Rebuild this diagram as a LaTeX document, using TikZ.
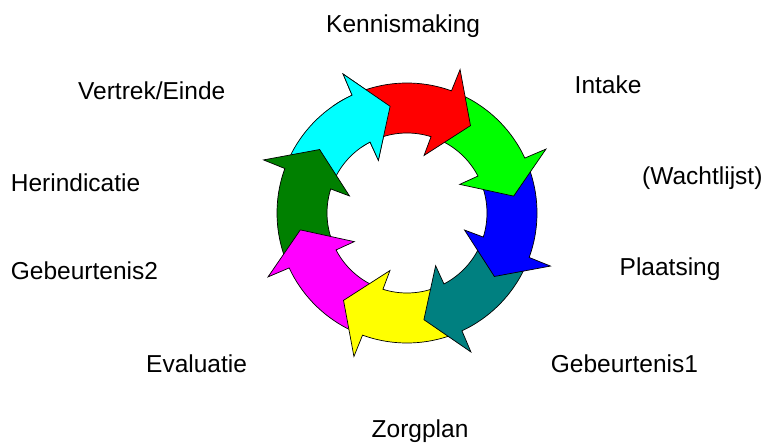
\documentclass[tikz,border=0pt]{standalone}
\usepackage{fontspec}
\setmainfont{Liberation Sans}
\definecolor{cteal}{RGB}{0,128,128}
\definecolor{cdkgreen}{RGB}{0,128,0}
\definecolor{cred}{RGB}{255,0,0}
\definecolor{cgreen}{RGB}{0,255,0}
\definecolor{cblue}{RGB}{0,0,255}
\definecolor{cyellow}{RGB}{255,255,0}
\definecolor{cmagenta}{RGB}{255,0,255}
\definecolor{ccyan}{RGB}{0,255,255}
\newcommand{\cycarrow}[2]{%
  \filldraw[arrowshape, fill=#2]
    ({#1+58.5}:130) arc[start angle={#1+58.5}, end angle={#1+16}, radius=130]
    -- ({#1+15.7}:153) -- ({#1}:108) -- ({#1+19.5}:60) -- ({#1+18.5}:80)
    arc[start angle={#1+18.5}, end angle={#1+58.5}, radius=80] -- cycle;}
\tikzset{
  arrowshape/.style={draw=black, line width=0.7pt, line join=miter},
  lbl/.style={anchor=base west, inner sep=0pt, font=\fontsize{24.5}{28}\selectfont}
}
\begin{document}
\begin{tikzpicture}[x=1pt,y=1pt]
\useasboundingbox (0,0) rectangle (765,442);
\begin{scope}[shift={(407,229)}]
  \cycarrow{99}{ccyan}
  \cycarrow{144}{cdkgreen}
  \cycarrow{-171}{cmagenta}
  \cycarrow{-126}{cyellow}
  \cycarrow{-81}{cteal}
  \cycarrow{-36}{cblue}
  \cycarrow{9}{cgreen}
  \cycarrow{54}{cred}
  \begin{scope}
    \clip (0,0) -- (95:220) arc[start angle=95, end angle=125, radius=220] -- cycle;
    \cycarrow{99}{ccyan}
  \end{scope}
\end{scope}
\node[lbl] (kennis) at (326,409.7) {Kennismaking};
\node[lbl] (intake) at (574.5,348) {Intake};
\node[lbl] (wacht) at (642,257) {(Wachtlijst)};
\node[lbl] (plaats) at (619.5,166) {Plaatsing};
\node[lbl] (geb1) at (550.7,69.7) {Gebeurtenis1};
\node[lbl] (zorg) at (371.5,5) {Zorgplan};
\node[lbl] (eval) at (146,69.7) {Evaluatie};
\node[lbl] (geb2) at (10.7,162) {Gebeurtenis2};
\node[lbl] (herind) at (10.7,250.3) {Herindicatie};
\node[lbl] (vertrek) at (78,342) {Vertrek/Einde};
\end{tikzpicture}
\end{document}
